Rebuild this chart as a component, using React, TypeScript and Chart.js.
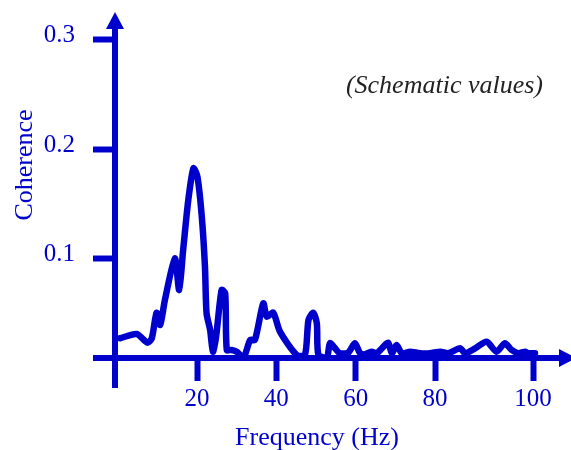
import React, { useEffect, useRef } from "react";
import { Chart, registerables } from "chart.js";

Chart.register(...registerables);

// ---- data ----
const frequencyHz = [
  0.6, 4.8, 7.5, 8.6, 9.8, 10.7, 11.9, 14.4, 15.5, 16.5, 17.8, 19.1, 20.1, 21.2,
  22.0, 22.4, 23.3, 24.0, 24.8, 26.2, 27.1, 27.5, 28.7, 30.0, 31.7, 33.4, 34.6,
  36.7, 37.6, 39.2, 40.9, 45.1, 47.2, 48.1, 49.3, 50.2, 50.6, 52.7, 53.5, 54.8,
  56.0, 58.1, 59.8, 61.1, 62.3, 64.0, 65.3, 66.6, 68.2, 69.1, 70.3, 71.6, 73.7,
  76.2, 78.7, 81.3, 83.3, 86.3, 87.6, 90.1, 93.0, 95.5, 97.6, 99.3, 101.0, 102.7,
  103.5, 105.2,
];
const coherence = [
  0.0274, 0.0313, 0.0233, 0.0274, 0.0507, 0.0395, 0.0623, 0.1004, 0.0715, 0.108,
  0.1537, 0.1826, 0.1749, 0.1384, 0.0927, 0.0502, 0.0349, 0.0151, 0.0288, 0.0715,
  0.0684, 0.0167, 0.0167, 0.0151, 0.0095, 0.0258, 0.0258, 0.0593, 0.0471, 0.0507,
  0.0334, 0.0121, 0.0121, 0.0441, 0.0507, 0.041, 0.0121, 0.0095, 0.0228, 0.0182,
  0.0137, 0.0142, 0.0228, 0.0137, 0.0127, 0.0151, 0.0137, 0.0182, 0.0233, 0.0137,
  0.0212, 0.0137, 0.0151, 0.0137, 0.0137, 0.0151, 0.0137, 0.0182, 0.0137, 0.0182,
  0.0242, 0.0151, 0.0228, 0.0167, 0.0137, 0.0151, 0.0137, 0.0137,
];
const xTickPositions = [20, 40, 60, 80, 104.7];
const xTickLabels = ["20", "40", "60", "80", "100"];
const yTickValues = [0.1, 0.2, 0.3];
const yTickLabels = ["0.1", "0.2", "0.3"];
const xAxisTitle = "Frequency (Hz)";
const yAxisTitle = "Coherence";
const noteText = "(Schematic values)";

const BLUE = "#0000CC";
const SERIF = '"Liberation Serif", "Times New Roman", Times, serif';

const axesPlugin = {
  id: "schematicAxes",
  afterDatasetsDraw(chart: any) {
    const { ctx, chartArea } = chart;
    const ax = chartArea.left;
    const ay = chartArea.bottom;
    ctx.save();
    ctx.strokeStyle = BLUE;
    ctx.fillStyle = BLUE;
    ctx.lineWidth = 6;
    ctx.lineCap = "butt";
    // y axis line + arrow
    ctx.beginPath();
    ctx.moveTo(ax, ay + 30);
    ctx.lineTo(ax, chartArea.top + 15);
    ctx.stroke();
    ctx.beginPath();
    ctx.moveTo(ax, chartArea.top);
    ctx.lineTo(ax - 9, chartArea.top + 17);
    ctx.lineTo(ax + 9, chartArea.top + 17);
    ctx.closePath();
    ctx.fill();
    // x axis line + arrow
    ctx.beginPath();
    ctx.moveTo(ax - 22, ay);
    ctx.lineTo(chartArea.right + 2, ay);
    ctx.stroke();
    ctx.beginPath();
    ctx.moveTo(chartArea.right + 16, ay);
    ctx.lineTo(chartArea.right - 1, ay - 9);
    ctx.lineTo(chartArea.right - 1, ay + 9);
    ctx.closePath();
    ctx.fill();

    // axis titles
    ctx.font = `26px ${SERIF}`;
    ctx.textAlign = "center";
    ctx.textBaseline = "alphabetic";
    ctx.fillText(xAxisTitle, 317, 445);
    ctx.save();
    ctx.translate(32, 165);
    ctx.rotate(-Math.PI / 2);
    ctx.fillText(yAxisTitle, 0, 0);
    ctx.restore();

    // note
    ctx.font = `italic 26px ${SERIF}`;
    ctx.fillStyle = "#222222";
    ctx.textAlign = "right";
    ctx.fillText(noteText, 543, 93);
    ctx.restore();
  },
};

export default function App() {
  const canvasRef = useRef<HTMLCanvasElement | null>(null);

  useEffect(() => {
    const canvas = canvasRef.current;
    if (!canvas) return;
    const chart = new Chart(canvas, {
      type: "line",
      data: {
        datasets: [
          {
            data: frequencyHz.map((f, i) => ({ x: f, y: coherence[i] })),
            borderColor: BLUE,
            borderWidth: 6.5,
            pointRadius: 0,
            tension: 0.25,
            borderJoinStyle: "round",
            borderCapStyle: "round",
            fill: false,
            clip: false as any,
          },
        ],
      },
      options: {
        animation: false,
        responsive: false,
        devicePixelRatio: 1,
        layout: { padding: { left: 0, top: 12, right: 11, bottom: 0 } },
        plugins: {
          legend: { display: false },
          tooltip: { enabled: false },
        },
        scales: {
          x: {
            type: "linear",
            min: -0.68,
            max: 111.5,
            border: { display: false },
            grid: {
              drawOnChartArea: false,
              drawTicks: true,
              tickLength: 23,
              tickWidth: 6,
              tickColor: BLUE,
            },
            afterBuildTicks: (scale: any) => {
              scale.ticks = xTickPositions.map((v) => ({ value: v }));
            },
            afterFit: (scale: any) => {
              scale.height = 92;
              scale.paddingLeft = 0;
              scale.paddingRight = 0;
              scale.paddingTop = 0;
              scale.paddingBottom = 0;
            },
            ticks: {
              autoSkip: false,
              maxRotation: 0,
              color: BLUE,
              padding: 3,
              font: { family: SERIF, size: 25 },
              callback: (_v: any, i: number) => xTickLabels[i],
            },
          },
          y: {
            type: "linear",
            min: 0.00936,
            max: 0.3253,
            border: { display: false },
            grid: {
              drawOnChartArea: false,
              drawTicks: true,
              tickLength: 22,
              tickWidth: 6,
              tickColor: BLUE,
            },
            afterBuildTicks: (scale: any) => {
              scale.ticks = yTickValues.map((v) => ({ value: v }));
            },
            afterFit: (scale: any) => {
              scale.width = 115;
              scale.paddingLeft = 0;
              scale.paddingRight = 0;
              scale.paddingTop = 0;
              scale.paddingBottom = 0;
            },
            ticks: {
              autoSkip: false,
              color: BLUE,
              padding: 18,
              labelOffset: -4,
              font: { family: SERIF, size: 25 },
              callback: (_v: any, i: number) => yTickLabels[i],
            },
          },
        },
      },
      plugins: [axesPlugin],
    });
    return () => chart.destroy();
  }, []);

  return (
    <div style={{ position: "fixed", left: 0, top: 0, width: 571, height: 450 }}>
      <canvas ref={canvasRef} width={571} height={450} style={{ width: 571, height: 450 }} />
    </div>
  );
}
